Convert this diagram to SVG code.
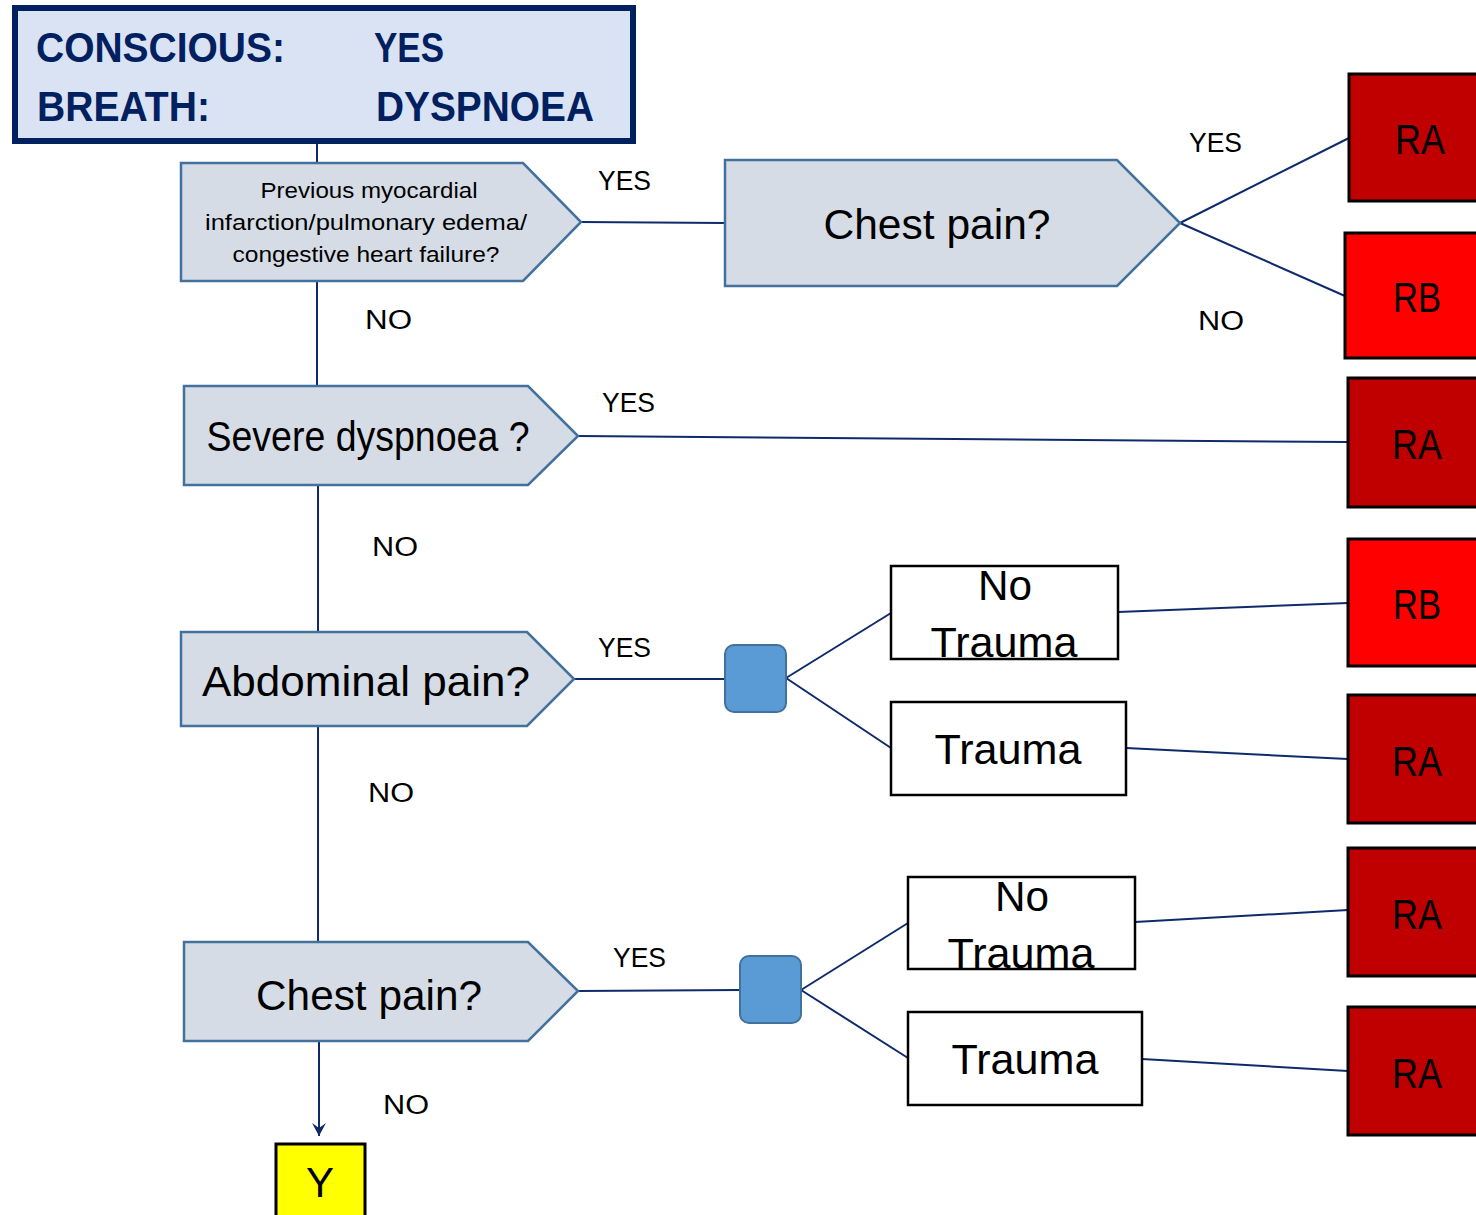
<svg xmlns="http://www.w3.org/2000/svg" width="1476" height="1215" viewBox="0 0 1476 1215">
<style>
text{font-family:"Liberation Sans",Arial,sans-serif;fill:#000;}
.hdr{font-weight:bold;font-size:42px;fill:#002060;}
.dec{fill:#D6DCE5;stroke:#41719C;stroke-width:2.5;}
.lbl{font-size:27px;}
.big{font-size:42px;text-anchor:middle;}
.sm{font-size:22px;text-anchor:middle;}
.res{stroke:#000;stroke-width:3;}
.ra{fill:#C00000;}
.rb{fill:#FF0000;}
.box{fill:#fff;stroke:#000;stroke-width:2.5;}
.jn{fill:#5B9BD5;stroke:#41719C;stroke-width:2;}
.c{stroke:#0E2A6B;stroke-width:2;fill:none;}
</style>
<defs>
<marker id="arr" markerWidth="14" markerHeight="14" refX="13" refY="7" orient="auto" markerUnits="userSpaceOnUse" viewBox="0 0 14 14">
<path d="M0,0 L13,7 L0,14 L5,7 Z" fill="#0E2A6B"/>
</marker>
</defs>
<g id="connectors">
<line class="c" x1="317" y1="144" x2="317" y2="163"/>
<line class="c" x1="317" y1="281" x2="317" y2="386"/>
<line class="c" x1="581" y1="222" x2="725" y2="223"/>
<line class="c" x1="1180" y1="223" x2="1349" y2="138"/>
<line class="c" x1="1180" y1="223" x2="1345" y2="296"/>
<line class="c" x1="318" y1="485" x2="318" y2="632"/>
<line class="c" x1="578" y1="436" x2="1348" y2="442"/>
<line class="c" x1="318" y1="726" x2="318" y2="942"/>
<line class="c" x1="574" y1="679" x2="725" y2="679"/>
<line class="c" x1="786" y1="678" x2="891" y2="613"/>
<line class="c" x1="786" y1="678" x2="891" y2="748"/>
<line class="c" x1="1118" y1="612" x2="1348" y2="603"/>
<line class="c" x1="1126" y1="748" x2="1348" y2="759"/>
<line class="c" x1="578" y1="991" x2="740" y2="990"/>
<line class="c" x1="801" y1="990" x2="908" y2="923"/>
<line class="c" x1="801" y1="990" x2="908" y2="1058"/>
<line class="c" x1="1135" y1="922" x2="1348" y2="910"/>
<line class="c" x1="1142" y1="1059" x2="1348" y2="1071"/>
<line class="c" x1="319" y1="1041" x2="319" y2="1136" marker-end="url(#arr)"/>
</g>
<g id="labels">
<text class="lbl" x="598" y="190" textLength="53" lengthAdjust="spacingAndGlyphs">YES</text>
<text class="lbl" x="365" y="329" textLength="47" lengthAdjust="spacingAndGlyphs">NO</text>
<text class="lbl" x="1189" y="152" textLength="53" lengthAdjust="spacingAndGlyphs">YES</text>
<text class="lbl" x="1198" y="330" textLength="46" lengthAdjust="spacingAndGlyphs">NO</text>
<text class="lbl" x="602" y="412" textLength="53" lengthAdjust="spacingAndGlyphs">YES</text>
<text class="lbl" x="372" y="556" textLength="46" lengthAdjust="spacingAndGlyphs">NO</text>
<text class="lbl" x="598" y="657" textLength="53" lengthAdjust="spacingAndGlyphs">YES</text>
<text class="lbl" x="368" y="802" textLength="46" lengthAdjust="spacingAndGlyphs">NO</text>
<text class="lbl" x="613" y="967" textLength="53" lengthAdjust="spacingAndGlyphs">YES</text>
<text class="lbl" x="383" y="1114" textLength="46" lengthAdjust="spacingAndGlyphs">NO</text>
</g>
<g id="header">
<rect x="15" y="8" width="618" height="133" fill="#DAE3F3" stroke="#002060" stroke-width="6"/>
<text class="hdr" x="36" y="62" textLength="249" lengthAdjust="spacingAndGlyphs">CONSCIOUS:</text>
<text class="hdr" x="374" y="62" textLength="70" lengthAdjust="spacingAndGlyphs">YES</text>
<text class="hdr" x="37" y="121" textLength="173" lengthAdjust="spacingAndGlyphs">BREATH:</text>
<text class="hdr" x="376" y="121" textLength="218" lengthAdjust="spacingAndGlyphs">DYSPNOEA</text>
</g>
<g id="q-previous">
<polygon class="dec" points="181,163 523,163 581,222 523,281 181,281"/>
<text class="sm" x="369" y="198" textLength="217" lengthAdjust="spacingAndGlyphs">Previous myocardial</text>
<text class="sm" x="366" y="230" textLength="322" lengthAdjust="spacingAndGlyphs">infarction/pulmonary edema/</text>
<text class="sm" x="366" y="262" textLength="267" lengthAdjust="spacingAndGlyphs">congestive heart failure?</text>
</g>
<g id="q-chest-top">
<polygon class="dec" points="725,160 1117,160 1180,223 1117,286 725,286"/>
<text class="big" x="937" y="239" textLength="227" lengthAdjust="spacingAndGlyphs">Chest pain?</text>
</g>
<g id="q-severe">
<polygon class="dec" points="184,386 528,386 578,436 528,485 184,485"/>
<text class="big" x="368" y="451" font-size="38" textLength="323" lengthAdjust="spacingAndGlyphs">Severe dyspnoea ?</text>
</g>
<g id="q-abdominal">
<polygon class="dec" points="181,632 527,632 574,679 527,726 181,726"/>
<text class="big" x="366" y="696" textLength="328" lengthAdjust="spacingAndGlyphs">Abdominal pain?</text>
</g>
<g id="q-chest-bottom">
<polygon class="dec" points="184,942 528,942 578,991 528,1041 184,1041"/>
<text class="big" x="369" y="1010" textLength="226" lengthAdjust="spacingAndGlyphs">Chest pain?</text>
</g>
<g id="j1"><rect class="jn" x="725" y="645" width="61" height="67" rx="9"/></g>
<g id="j2"><rect class="jn" x="740" y="956" width="61" height="67" rx="9"/></g>
<g id="nt1">
<rect class="box" x="891" y="566" width="227" height="93"/>
<text class="big" x="1005" y="600" font-size="39" textLength="54" lengthAdjust="spacingAndGlyphs">No</text>
<text class="big" x="1004" y="657" font-size="39" textLength="147" lengthAdjust="spacingAndGlyphs">Trauma</text>
</g>
<g id="t1">
<rect class="box" x="891" y="702" width="235" height="93"/>
<text class="big" x="1008" y="764" font-size="39" textLength="147" lengthAdjust="spacingAndGlyphs">Trauma</text>
</g>
<g id="nt2">
<rect class="box" x="908" y="877" width="227" height="92"/>
<text class="big" x="1022" y="911" font-size="39" textLength="54" lengthAdjust="spacingAndGlyphs">No</text>
<text class="big" x="1021" y="968" font-size="39" textLength="147" lengthAdjust="spacingAndGlyphs">Trauma</text>
</g>
<g id="t2">
<rect class="box" x="908" y="1012" width="234" height="93"/>
<text class="big" x="1025" y="1074" font-size="39" textLength="147" lengthAdjust="spacingAndGlyphs">Trauma</text>
</g>
<g id="ra1"><rect class="res ra" x="1349" y="74" width="140" height="127"/><text class="big" x="1420" y="154" font-size="39" textLength="50" lengthAdjust="spacingAndGlyphs">RA</text></g>
<g id="rb1"><rect class="res rb" x="1345" y="233" width="140" height="125"/><text class="big" x="1417" y="312" font-size="39" textLength="48" lengthAdjust="spacingAndGlyphs">RB</text></g>
<g id="ra2"><rect class="res ra" x="1348" y="378" width="140" height="129"/><text class="big" x="1417" y="459" font-size="39" textLength="50" lengthAdjust="spacingAndGlyphs">RA</text></g>
<g id="rb2"><rect class="res rb" x="1348" y="539" width="140" height="127"/><text class="big" x="1417" y="619" font-size="39" textLength="48" lengthAdjust="spacingAndGlyphs">RB</text></g>
<g id="ra3"><rect class="res ra" x="1348" y="695" width="140" height="128"/><text class="big" x="1417" y="776" font-size="39" textLength="50" lengthAdjust="spacingAndGlyphs">RA</text></g>
<g id="ra4"><rect class="res ra" x="1348" y="848" width="140" height="128"/><text class="big" x="1417" y="929" font-size="39" textLength="50" lengthAdjust="spacingAndGlyphs">RA</text></g>
<g id="ra5"><rect class="res ra" x="1348" y="1007" width="140" height="128"/><text class="big" x="1417" y="1088" font-size="39" textLength="50" lengthAdjust="spacingAndGlyphs">RA</text></g>
<g id="y"><rect class="res" x="276" y="1144" width="89" height="90" fill="#FFFF00"/><text class="big" x="320" y="1197" font-size="39">Y</text></g>
</svg>
